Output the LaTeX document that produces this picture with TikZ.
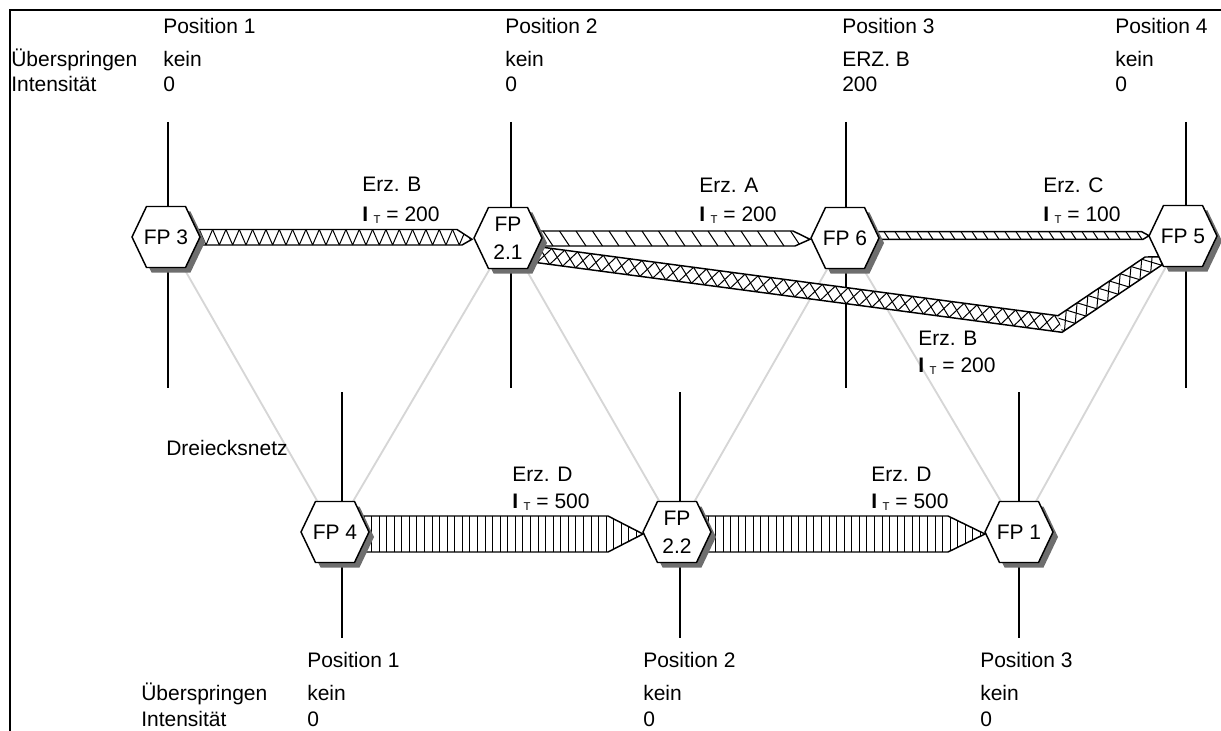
\documentclass[tikz,border=0pt]{standalone}
\usepackage{fontspec}
\setmainfont{Liberation Sans}
\definecolor{netgray}{RGB}{214,214,214}
\definecolor{shadegray}{RGB}{110,110,110}
\newcommand\lblfont{\fontsize{15.75}{19}\selectfont}
\newcommand\hexfont{\fontsize{15.75}{21}\selectfont}
% intensity symbol I with subscript T
\newcommand\IT{\textbf{I}\hspace{4.2pt}\raisebox{-1.6pt}{\fontsize{8.5}{10}\selectfont T}}
% flat-topped hexagon, starting from its centre
\newcommand\hexpath{++(-34,0) -- ++(14.5,-30.5) -- ++(39,0) -- ++(14.5,30.5) -- ++(-14.5,30.5) -- ++(-39,0) -- cycle}
\begin{document}
\begin{tikzpicture}[x=0.75pt,y=-0.75pt,
  frame/.style={line width=1.6pt},
  pole/.style={line width=0.8pt},
  net/.style={draw=netgray, line width=1.4pt},
  band/.style={line width=1.1pt, line join=miter},
  hatch/.style={line width=0.75pt},
  hexline/.style={fill=white, draw=black, line width=1.1pt, line join=miter},
  hexshade/.style={fill=shadegray},
  hextext/.style={align=center, inner sep=0pt, font=\hexfont},
  lbl/.style={anchor=base west, inner sep=0pt, font=\lblfont},
]
\useasboundingbox (0,0) rectangle (1221,731);

% frame
\draw[frame] (10,731) -- (10,10) -- (1221,10);

% hexagon centres
\coordinate (P3)  at (166,237);
\coordinate (P21) at (508,238);
\coordinate (P6)  at (845,238);
\coordinate (P5)  at (1183,236);
\coordinate (P4)  at (335,532);
\coordinate (P22) at (677,532);
\coordinate (P1)  at (1019,532);

% triangle net
\draw[net] (P3) -- (P4);
\draw[net] (P21) -- (P4);
\draw[net] (P21) -- (P22);
\draw[net] (P6) -- (P22);
\draw[net] (P6) -- (P1);
\draw[net] (P5) -- (P1);

% position axes
\foreach \n/\x in {a/168,b/511,c/846,d/1186}{
  \coordinate (top-\n) at (\x,122);
  \coordinate (bot-\n) at (\x,388);
  \draw[pole] (top-\n) -- (bot-\n);
}
\foreach \n/\x in {e/342,f/680,g/1019}{
  \coordinate (top-\n) at (\x,392);
  \coordinate (bot-\n) at (\x,638);
  \draw[pole] (top-\n) -- (bot-\n);
}

% flow FP3 -> FP2.1 (Erz. B)
\fill[white] (190,229.5) -- (457,229.5) -- (472,239.3) -- (462,245) -- (190,245) -- cycle;
\begin{scope}
  \clip (190,229.5) -- (457,229.5) -- (472,239.3) -- (462,245) -- (190,245) -- cycle;
  \foreach \k in {0,...,21}
    \draw[hatch] ({199.3+13.33*\k},229.5) -- ({206+13.33*\k},245) -- ({212.6+13.33*\k},229.5);
\end{scope}
\draw[band] (190,229.5) -- (457,229.5) -- (472,239.3) -- (462,245) -- (190,245);

% flow FP2.1 -> FP6 (Erz. A)
\fill[white] (535,231) -- (793,231) -- (810,239.3) -- (795,246) -- (535,246) -- cycle;
\begin{scope}
  \clip (535,231) -- (793,231) -- (810,239.3) -- (795,246) -- (535,246) -- cycle;
  \foreach \k in {0,...,17}
    \draw[hatch] ({543+16.5*\k},231) -- ({553+16.5*\k},246);
\end{scope}
\draw[band] (535,231) -- (793,231) -- (810,239.3) -- (795,246) -- (535,246);

% flow FP6 -> FP5 (Erz. C)
\fill[white] (872,231.7) -- (1141.7,231.7) -- (1149,235.7) -- (1143,239.3) -- (872,239.3) -- cycle;
\begin{scope}
  \clip (872,231.7) -- (1141.7,231.7) -- (1149,235.7) -- (1143,239.3) -- (872,239.3) -- cycle;
  \foreach \k in {0,...,25}
    \draw[hatch] ({884+11*\k},231.7) -- ({889+11*\k},239.3);
\end{scope}
\draw[band] (872,231.7) -- (1141.7,231.7) -- (1149,235.7) -- (1143,239.3) -- (872,239.3);

% flow FP2.1 -> FP5 (Erz. B), bent
\fill[white] (526.05,245.07) -- (1058.0,315.7) -- (1145.06,257.0) -- (1159.48,256.92)
  -- (1162.3,264.67) -- (1061.98,332.31) -- (523.95,260.93) -- cycle;
\begin{scope}[shift={(525,253)}, rotate=-7.56]
  \clip (0,-8) -- (536.6,-8) -- (542.8,8) -- (0,8) -- cycle;
  \foreach \k in {0,...,42}{
    \draw[hatch] ({13*\k},-8) -- ({13*\k+13},8);
    \draw[hatch] ({13*\k+13},-8) -- ({13*\k},8);
  }
\end{scope}
\begin{scope}[shift={(1060,324)}, rotate=34]
  \clip (3,-8) -- (108,-8) -- (120,0) -- (118,8) -- (-3,8) -- cycle;
  \foreach \k in {-1,...,10}{
    \draw[hatch] ({13*\k},-8) -- ({13*\k+13},8);
    \draw[hatch] ({13*\k+13},-8) -- ({13*\k},8);
  }
\end{scope}
\draw[band] (526.05,245.07) -- (1058.0,315.7) -- (1145.06,257.0) -- (1159.48,256.92)
  -- (1162.3,264.67) -- (1061.98,332.31) -- (523.95,260.93);

% flow FP4 -> FP2.2 (Erz. D)
\fill[white] (360,516) -- (608,516) -- (643,534) -- (608,552) -- (360,552) -- cycle;
\begin{scope}
  \clip (360,516) -- (608,516) -- (643,534) -- (608,552) -- (360,552) -- cycle;
  \foreach \k in {0,...,37}
    \draw[hatch] ({364+7.57*\k},516) -- ({364+7.57*\k},552);
\end{scope}
\draw[band] (360,516) -- (608,516) -- (643,534) -- (608,552) -- (360,552);

% flow FP2.2 -> FP1 (Erz. D)
\fill[white] (705,516) -- (948,516) -- (985,534) -- (948,552) -- (705,552) -- cycle;
\begin{scope}
  \clip (705,516) -- (948,516) -- (985,534) -- (948,552) -- (705,552) -- cycle;
  \foreach \k in {0,...,37}
    \draw[hatch] ({708+7.57*\k},516) -- ({708+7.57*\k},552);
\end{scope}
\draw[band] (705,516) -- (948,516) -- (985,534) -- (948,552) -- (705,552);

% stations
\foreach \c/\t in {P3/FP 3, P21/FP\\2.1, P6/FP 6, P5/FP 5, P4/FP 4, P22/FP\\2.2, P1/FP 1}{
  \fill[hexshade] ([shift={(5,5)}]\c) \hexpath;
  \draw[hexline] (\c) \hexpath;
  \node[hextext] (\c-name) at (\c) {\t};
}

% flow labels
\node[lbl] (lb1) at (362,192) {Erz. B};
\node[lbl] (li1) at (362,221) {\IT{} = 200};
\node[lbl] (lb2) at (699,193) {Erz. A};
\node[lbl] (li2) at (699,221) {\IT{} = 200};
\node[lbl] (lb3) at (1043,193) {Erz. C};
\node[lbl] (li3) at (1043,221) {\IT{} = 100};
\node[lbl] (lb4) at (918,345) {Erz. B};
\node[lbl] (li4) at (918,372) {\IT{} = 200};
\node[lbl] (lb5) at (512,481) {Erz. D};
\node[lbl] (li5) at (512,508) {\IT{} = 500};
\node[lbl] (lb6) at (871,481) {Erz. D};
\node[lbl] (li6) at (871,508) {\IT{} = 500};

\node[lbl] (net) at (166,455) {Dreiecksnetz};

% upper position table
\node[lbl] (hu1) at (11,67) {Überspringen};
\node[lbl] (hu2) at (11,92) {Intensität};
\node[lbl] (tp1) at (163,33.5) {Position 1};
\node[lbl] (tk1) at (163,67) {kein};
\node[lbl] (ti1) at (163,92) {0};
\node[lbl] (tp2) at (505,33.5) {Position 2};
\node[lbl] (tk2) at (505,67) {kein};
\node[lbl] (ti2) at (505,92) {0};
\node[lbl] (tp3) at (842,33.5) {Position 3};
\node[lbl] (tk3) at (842,67) {ERZ. B};
\node[lbl] (ti3) at (842,92) {200};
\node[lbl] (tp4) at (1115,33.5) {Position 4};
\node[lbl] (tk4) at (1115,67) {kein};
\node[lbl] (ti4) at (1115,92) {0};

% lower position table
\node[lbl] (hl1) at (141,700) {Überspringen};
\node[lbl] (hl2) at (141,726) {Intensität};
\node[lbl] (bp1) at (307,667) {Position 1};
\node[lbl] (bk1) at (307,700) {kein};
\node[lbl] (bi1) at (307,726) {0};
\node[lbl] (bp2) at (643,667) {Position 2};
\node[lbl] (bk2) at (643,700) {kein};
\node[lbl] (bi2) at (643,726) {0};
\node[lbl] (bp3) at (980,667) {Position 3};
\node[lbl] (bk3) at (980,700) {kein};
\node[lbl] (bi3) at (980,726) {0};
\end{tikzpicture}
\end{document}
